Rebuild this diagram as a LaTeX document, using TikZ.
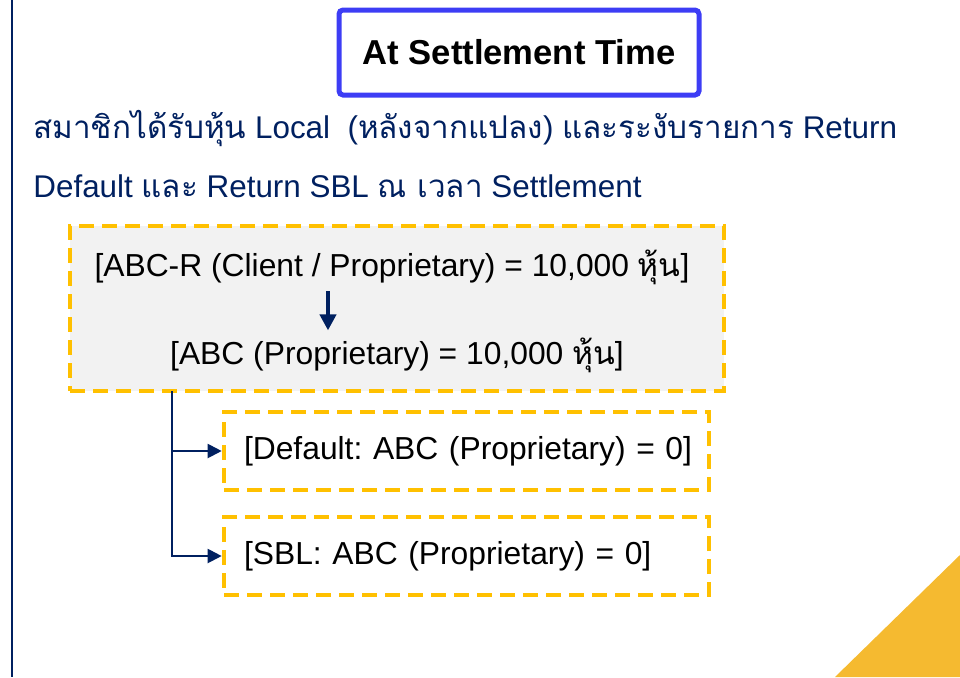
\documentclass[tikz,border=0pt]{standalone}
\usepackage{fontspec}
\setmainfont{Liberation Sans}
\newfontfamily\thaifont[Script=Thai]{Loma}
\usetikzlibrary{arrows.meta}
\definecolor{navy}{RGB}{0,32,96}
\definecolor{amber}{RGB}{255,192,0}
\definecolor{titleblue}{RGB}{61,61,245}
\definecolor{boxgray}{RGB}{242,242,242}
\definecolor{cornergold}{RGB}{245,186,48}
\newcommand{\thai}[1]{{\thaifont #1}}
\frenchspacing
\begin{document}
\begin{tikzpicture}[x=0.5pt, y=-0.5pt,
	dashbox/.style={draw=amber, line width=2.3pt, dash pattern=on 7.5pt off 4pt, inner sep=0pt},
	navyline/.style={draw=navy, line width=1pt},
	every node/.style={font=\fontsize{15.9}{19}\selectfont}]
	\useasboundingbox (0,0) rectangle (960,677);
	% corner triangle
	\fill [cornergold] (835,677) -- (960,555) -- (960,677) -- cycle;
	% left rule
	\draw [navyline] (12,0) -- (12,677);
	% title box
	\node (title) [draw=titleblue, line width=2.5pt, rounded corners=2pt, minimum width=180pt, minimum height=42.5pt, font=\fontsize{17.3}{20}\selectfont\bfseries] at (519,52.5) {At Settlement Time};
	% intro lines
	\node (intro1) [anchor=base west, inner sep=0pt, text=navy, font=\fontsize{15.7}{19}\selectfont] at (33,138) {\thai{สมาชิกได้รับหุ้น} Local\ \ (\thai{หลังจากแปลง}) \thai{และระงับรายการ} Return};
	\node (intro2) [anchor=base west, inner sep=0pt, text=navy, font=\fontsize{15.7}{19}\selectfont] at (33,197) {Default \thai{และ} Return SBL \thai{ณ เวลา} Settlement};
	% holding box
	\node (holding) [dashbox, fill=boxgray, minimum width=327pt, minimum height=82.5pt] at (397,308.5) {};
	\node (fromR) [anchor=base] at (392,276) {[ABC-R (Client / Proprietary) = 10,000 \thai{หุ้น}]};
	\node (toABC) [anchor=base] at (397,364) {[ABC (Proprietary) = 10,000 \thai{หุ้น}]};
	\draw [navy, line width=2pt, -{Triangle[length=8pt, width=8pt]}] ([xshift=-32pt]fromR.south) -- ([xshift=-32pt]fromR.south |- toABC.north);
	% result boxes
	\node (dflt) [dashbox, minimum height=39pt, text width=222.5pt, inner xsep=10pt, align=left] at (466.5,451) {\mbox{[Default: ABC (Proprietary) = 0]}};
	\node (sbl) [dashbox, minimum height=39pt, text width=222.5pt, inner xsep=10pt, align=left] at (466.5,556) {\mbox{[SBL: ABC (Proprietary) = 0]}};
	% connectors
	\coordinate (trunk) at (172,391);
	\draw [navyline, -{Triangle[length=7pt, width=7pt]}] (trunk) |- (dflt.west);
	\draw [navyline, -{Triangle[length=7pt, width=7pt]}] (trunk) |- (sbl.west);
\end{tikzpicture}
\end{document}
